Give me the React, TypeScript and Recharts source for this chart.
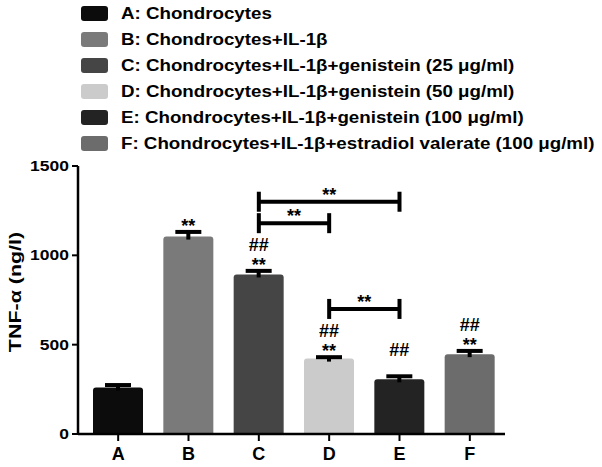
import React from 'react';
import {
  BarChart, Bar, XAxis, YAxis, Cell, LabelList, Legend, ReferenceLine,
} from 'recharts';

const categories = ['A', 'B', 'C', 'D', 'E', 'F'];
const legendLabels = [
  'A: Chondrocytes',
  'B: Chondrocytes+IL-1β',
  'C: Chondrocytes+IL-1β+genistein (25 μg/ml)',
  'D: Chondrocytes+IL-1β+genistein (50 μg/ml)',
  'E: Chondrocytes+IL-1β+genistein (100 μg/ml)',
  'F: Chondrocytes+IL-1β+estradiol valerate (100 μg/ml)',
];
const values = [260, 1105, 893, 422, 306, 447];
const errors = [14, 26, 20, 8, 17, 18];
const starMarks = ['', '**', '**', '**', '', '**'];
const hashMarks = ['', '', '##', '##', '##', '##'];
const colors = ['#0c0c0c', '#7a7a7a', '#454545', '#cbcbcb', '#232323', '#6c6c6c'];
const yTicks = [0, 500, 1000, 1500];
const brackets = [
  { from: 'C', to: 'E', level: 1300, mark: '**' },
  { from: 'C', to: 'D', level: 1180, mark: '**' },
  { from: 'D', to: 'E', level: 700, mark: '**' },
];
const bracketTick = 56;

const data = categories.map((c, i) => ({
  name: c,
  value: values[i],
  err: errors[i],
  star: starMarks[i],
  hash: hashMarks[i],
}));

const FONT = '"Liberation Sans", Arial, sans-serif';

// Error bar (upper half only, as in the reference) plus significance marks,
// positioned from the bar geometry the library computes.
const SigLabel = (props: any) => {
  const { x, y, width, height, index } = props;
  const v = values[index];
  const pxPerUnit = height / v;
  const capY = y - errors[index] * pxPerUnit;
  const cx = x + width / 2;
  return (
    <g>
      <line x1={cx} x2={cx} y1={y + 3} y2={capY} stroke="#000" strokeWidth={4} />
      <line x1={cx - 13} x2={cx + 13} y1={capY} y2={capY} stroke="#000" strokeWidth={4} />
      {starMarks[index] ? (
        <text x={cx} y={capY + 0} textAnchor="middle" fontFamily={FONT} fontWeight="bold" fontSize={18} fill="#000">
          {starMarks[index]}
        </text>
      ) : null}
      {hashMarks[index] ? (
        <text x={cx} y={capY - 20} textAnchor="middle" fontFamily={FONT} fontWeight="bold" fontSize={18} fill="#000">
          {hashMarks[index]}
        </text>
      ) : null}
    </g>
  );
};

const YTick = (props: any) => {
  const { x, y, payload } = props;
  return (
    <g transform={`translate(${x},${y}) scale(1.25,1)`}>
      <text x={0} y={0} dy="0.36em" textAnchor="end" fontFamily={FONT} fontWeight="bold" fontSize={14} fill="#000">
        {payload.value}
      </text>
    </g>
  );
};

const XTick = (props: any) => {
  const { x, y, payload } = props;
  return (
    <text x={x} y={y} dy="0.95em" textAnchor="middle" fontFamily={FONT} fontWeight="bold" fontSize={18} fill="#000">
      {payload.value}
    </text>
  );
};

const YLabel = (props: any) => {
  const { viewBox } = props;
  const cy = viewBox.y + viewBox.height / 2 - 8;
  return (
    <g transform={`translate(21,${cy}) rotate(-90) scale(1.3,1)`}>
      <text x={0} y={0} textAnchor="middle" fontFamily={FONT} fontWeight="bold" fontSize={16.5} fill="#000">
        TNF-α (ng/l)
      </text>
    </g>
  );
};

const LegendContent = () => (
  <div style={{ position: 'relative', width: 602, height: 160 }}>
    {legendLabels.map((label, i) => (
      <div
        key={label}
        style={{ position: 'absolute', left: 81, top: 5 + i * 25.9, height: 17, display: 'flex', alignItems: 'center' }}
      >
        <div style={{ width: 27, height: 15, background: colors[i], borderRadius: 3 }} />
        <div
          style={{
            marginLeft: 13,
            fontFamily: FONT,
            fontWeight: 'bold',
            fontSize: 16.3,
            color: '#000',
            whiteSpace: 'nowrap',
            transform: 'scaleX(1.15)',
            transformOrigin: 'left center',
            lineHeight: '17px',
          }}
        >
          {label}
        </div>
      </div>
    ))}
  </div>
);

export default function App() {
  return (
    <div style={{ position: 'absolute', left: 0, top: 0, width: 602, height: 467, background: '#fff' }}>
      <BarChart
        width={602}
        height={467}
        data={data}
        margin={{ top: 166, right: 97, bottom: 3, left: 0 }}
        barCategoryGap={0}
      >
        <Legend
          layout="horizontal"
          verticalAlign="middle"
          align="center"
          content={<LegendContent />}
          wrapperStyle={{ position: 'absolute', left: 0, top: 0, width: 602, height: 160 }}
        />
        <XAxis
          dataKey="name"
          height={30}
          padding={{ left: 5, right: 0 }}
          tickSize={7}
          tickLine={{ stroke: '#000', strokeWidth: 2 }}
          axisLine={{ stroke: '#000', strokeWidth: 2.5 }}
          tick={<XTick />}
          interval={0}
        />
        <YAxis
          width={78}
          domain={[0, 1500]}
          ticks={yTicks}
          tickSize={6}
          tickMargin={3}
          tickLine={{ stroke: '#000', strokeWidth: 2 }}
          axisLine={{ stroke: '#000', strokeWidth: 2.5 }}
          tick={<YTick />}
          label={<YLabel />}
          allowDataOverflow
        />
        <Bar dataKey="value" barSize={50} isAnimationActive={false} radius={[3, 3, 0, 0]}>
          {data.map((d, i) => (
            <Cell key={d.name} fill={colors[i]} />
          ))}
          <LabelList dataKey="value" content={<SigLabel />} />
        </Bar>
        {brackets.map((b) => (
          <ReferenceLine
            key={`h-${b.from}-${b.to}`}
            segment={[{ x: b.from, y: b.level }, { x: b.to, y: b.level }]}
            stroke="#000"
            strokeWidth={4}
            ifOverflow="visible"
            label={{ value: b.mark, position: 'top', offset: 1, fontFamily: FONT, fontWeight: 'bold', fontSize: 18, fill: '#000' }}
          />
        ))}
        {brackets.flatMap((b) => [b.from, b.to].map((end) => (
          <ReferenceLine
            key={`v-${b.from}-${b.to}-${end}`}
            segment={[{ x: end, y: b.level - bracketTick }, { x: end, y: b.level + bracketTick }]}
            stroke="#000"
            strokeWidth={4}
            ifOverflow="visible"
          />
        )))}
      </BarChart>
    </div>
  );
}
